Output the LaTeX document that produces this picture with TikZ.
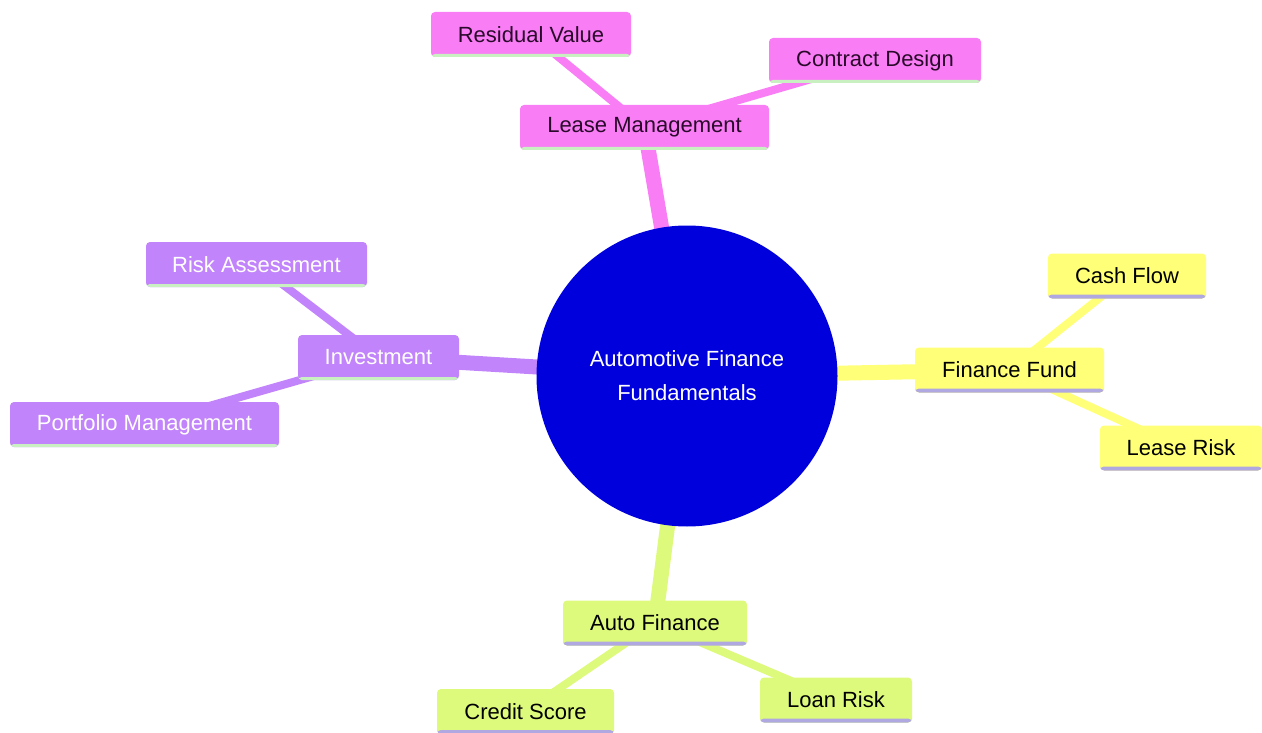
\documentclass[tikz,border=0pt]{standalone}
\usepackage{fontspec}
\setmainfont{Liberation Sans}
\usetikzlibrary{backgrounds}
\definecolor{cpink}{HTML}{F97DF5}
\definecolor{cpurple}{HTML}{C284FA}
\definecolor{cyellow}{HTML}{FFFF78}
\definecolor{cgreen}{HTML}{DDFA7D}
\definecolor{ulgreen}{HTML}{C8F0C0}
\definecolor{ullav}{HTML}{B0A8E0}
\definecolor{cblue}{HTML}{0000DD}
\definecolor{pinktext}{HTML}{2A0A2A}
\begin{document}
\begin{tikzpicture}[x=1pt,y=-1pt,
  box/.style={rectangle, rounded corners=4pt, minimum height=45pt, inner sep=0pt,
    font=\fontsize{22}{26}\selectfont},
  pinkbox/.style={box, fill=cpink, text=pinktext,
    path picture={\fill[ulgreen] ([yshift=3pt]path picture bounding box.south west) rectangle (path picture bounding box.south east);}},
  purplebox/.style={box, fill=cpurple, text=white,
    path picture={\fill[ulgreen] ([yshift=3pt]path picture bounding box.south west) rectangle (path picture bounding box.south east);}},
  yellowbox/.style={box, fill=cyellow, text=black,
    path picture={\fill[ullav] ([yshift=4pt]path picture bounding box.south west) rectangle (path picture bounding box.south east);}},
  greenbox/.style={box, fill=cgreen, text=black,
    path picture={\fill[ullav] ([yshift=4pt]path picture bounding box.south west) rectangle (path picture bounding box.south east);}},
  mainedge/.style={line width=15pt},
  subedge/.style={line width=8pt},
]
\useasboundingbox (0,0) rectangle (1262,733);
\node[circle, fill=cblue, minimum size=301pt, inner sep=0pt, text=white,
  align=center, font=\fontsize{22}{34}\selectfont] (c) at (687,376)
  {Automotive Finance\\Fundamentals};
% Lease Management
\node[pinkbox, minimum width=249pt] (lm) at (644.5,127.5) {Lease Management};
\node[pinkbox, minimum width=200pt] (rv) at (531,34.5) {Residual Value};
\node[pinkbox, minimum width=212pt] (cd) at (875,60.5) {Contract Design};
% Investment
\node[purplebox, minimum width=161pt] (inv) at (378.5,357.5) {Investment};
\node[purplebox, minimum width=221pt] (ra) at (256.5,264.5) {Risk Assessment};
\node[purplebox, minimum width=269pt] (pm) at (144.5,424.5) {Portfolio Management};
% Finance Fund
\node[yellowbox, minimum width=189pt] (ff) at (1009.5,370) {Finance Fund};
\node[yellowbox, minimum width=158pt] (cf) at (1127,276) {Cash Flow};
\node[yellowbox, minimum width=162pt] (lr) at (1181,448) {Lease Risk};
% Auto Finance
\node[greenbox, minimum width=184pt] (af) at (655,623) {Auto Finance};
\node[greenbox, minimum width=177pt] (cs) at (525.5,711.5) {Credit Score};
\node[greenbox, minimum width=152pt] (ln) at (836,700) {Loan Risk};
\begin{pgfonlayer}{background}
\draw[mainedge, cpink] (c.center) -- (lm.center);
\draw[mainedge, cpurple] (c.center) -- (inv.center);
\draw[mainedge, cyellow] (c.center) -- (ff.center);
\draw[mainedge, cgreen] (c.center) -- (af.center);
\draw[subedge, cpink] (lm.center) -- (rv.center);
\draw[subedge, cpink] (lm.center) -- (cd.center);
\draw[subedge, cpurple] (inv.center) -- (ra.center);
\draw[subedge, cpurple] (inv.center) -- (pm.center);
\draw[subedge, cyellow] (ff.center) -- (cf.center);
\draw[subedge, cyellow] (ff.center) -- (lr.center);
\draw[subedge, cgreen] (af.center) -- (cs.center);
\draw[subedge, cgreen] (af.center) -- (ln.center);
\end{pgfonlayer}
\end{tikzpicture}
\end{document}
